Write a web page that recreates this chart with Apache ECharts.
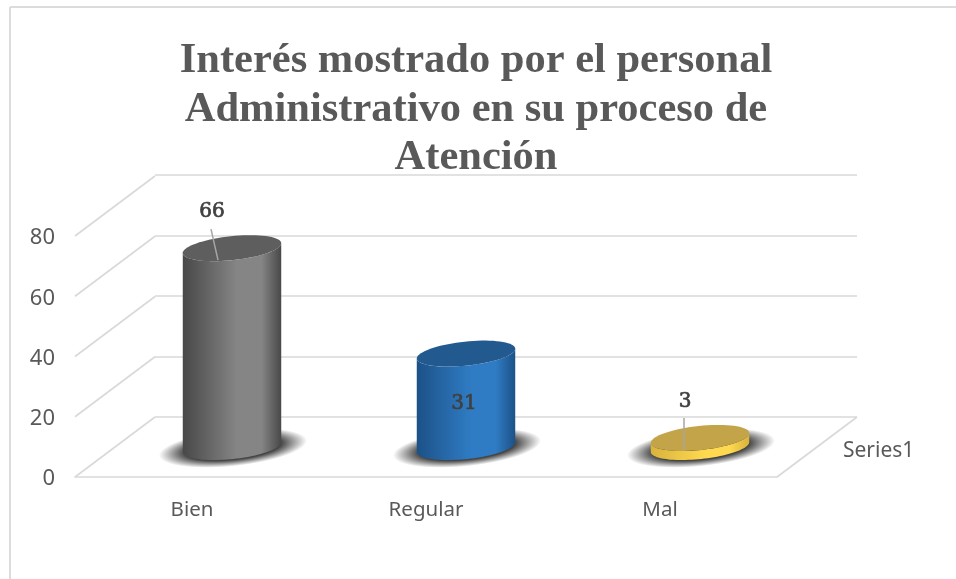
<!DOCTYPE html>
<html>
<head>
<meta charset="utf-8">
<style>html,body{margin:0;padding:0;background:#fff}#c{width:956px;height:579px}</style>
<script src="https://cdn.jsdelivr.net/npm/echarts@6/dist/echarts.min.js"></script>
</head>
<body>
<div id="c"></div>
<script>
const categories = ['Bien', 'Regular', 'Mal'];
const values = [66, 31, 3];
const valueTicks = [0, 20, 40, 60, 80];
const seriesName = 'Series1';
const titleText = 'Interés mostrado por el personal\nAdministrativo en su proceso de\nAtención';

// styling and layout
const depth = [80, -60];
const rx = 49.5, ry = 12, tilt = 0.105;
const gridColor = '#d9d9d9';
const looks = [
  { edge: '#484848', mid: '#858585', top: '#5e5e5e' },
  { edge: '#1c5187', mid: '#2f7cc4', top: '#22598f' },
  { edge: '#d8b23c', mid: '#ffd94f', top: '#c3a448' }
];
const labelOffsets = [[-20, -36], [-2, 50], [-15, -36]];
const leaders = [[-21, -19, -14, 12], null, [-16, -20, -16, 12]];

function ellipsePts(cx, cy, from, to, n) {
  const pts = [], c = Math.cos(tilt), s = Math.sin(tilt);
  for (let i = 0; i <= n; i++) {
    const t = from + (to - from) * i / n;
    const ex = rx * Math.cos(t), ey = ry * Math.sin(t);
    pts.push([cx + ex * c + ey * s, cy - ex * s + ey * c]);
  }
  return pts;
}

function renderFrameLines(params, api) {
  const cs = params.coordSys;
  const v = api.value(0);
  const y = api.coord([0, v])[1];
  const style = { stroke: gridColor, lineWidth: 1.6, fill: null };
  const children = [{
    type: 'line',
    shape: { x1: cs.x, y1: y, x2: cs.x + depth[0], y2: y + depth[1] },
    style
  }];
  if (v === 0) {
    children.push({
      type: 'line',
      shape: { x1: cs.x + cs.width, y1: y, x2: cs.x + cs.width + depth[0], y2: y + depth[1] },
      style
    });
    children.push({
      type: 'text',
      style: {
        x: cs.x + cs.width + 66, y: y - 26, text: seriesName,
        font: '21px "Noto Sans"', fill: '#595959', align: 'left', verticalAlign: 'middle'
      }
    });
  }
  return { type: 'group', children };
}

function renderColumn(params, api) {
  const i = api.value(0);
  const v = api.value(1);
  const look = looks[i];
  const p0 = api.coord([i, 0]);
  const p1 = api.coord([i, v]);
  const cx = p0[0] + depth[0] / 2;
  const baseY = p0[1] + depth[1] / 2;
  const topY = p1[1] + depth[1] / 2;

  const lower = ellipsePts(cx, baseY, 0, Math.PI, 48);
  const upper = ellipsePts(cx, topY, Math.PI, 0, 48);
  const children = [
    {
      type: 'circle',
      x: cx + 1, y: baseY + 1, rotation: tilt, scaleX: 1.55, scaleY: 0.38,
      shape: { cx: 0, cy: 0, r: 48 },
      style: {
        fill: {
          type: 'radial', x: 0.5, y: 0.5, r: 0.5,
          colorStops: [
            { offset: 0, color: 'rgba(45,45,45,0.92)' },
            { offset: 0.65, color: 'rgba(45,45,45,0.88)' },
            { offset: 0.82, color: 'rgba(45,45,45,0.45)' },
            { offset: 1, color: 'rgba(45,45,45,0)' }
          ]
        }
      }
    },
    {
      type: 'polygon',
      shape: { points: lower.concat(upper) },
      style: {
        fill: {
          type: 'linear', x: 0, y: 0, x2: 1, y2: 0,
          colorStops: [
            { offset: 0, color: look.edge },
            { offset: 0.55, color: look.mid },
            { offset: 0.8, color: look.mid },
            { offset: 1, color: look.edge }
          ]
        }
      }
    },
    {
      type: 'polygon',
      shape: { points: ellipsePts(cx, topY, 0, Math.PI * 2, 72) },
      style: { fill: look.top }
    }
  ];
  const lead = leaders[i];
  if (lead) {
    children.push({
      type: 'line',
      shape: { x1: cx + lead[0], y1: topY + lead[1], x2: cx + lead[2], y2: topY + lead[3] },
      style: { stroke: '#a6a6a6', lineWidth: 1.5, fill: null }
    });
  }
  const off = labelOffsets[i];
  children.push({
    type: 'text',
    style: {
      x: cx + off[0], y: topY + off[1], text: String(v),
      font: '20px "DejaVu Serif"', fill: '#404040', stroke: '#404040', lineWidth: 0.7,
      align: 'center', verticalAlign: 'middle'
    }
  });
  return { type: 'group', children };
}

const chart = echarts.init(document.getElementById('c'), null, { renderer: 'canvas' });
chart.setOption({
  animation: false,
  backgroundColor: '#fff',
  title: {
    text: titleText,
    left: 471, top: 32, textAlign: 'center',
    textStyle: { fontFamily: '"Liberation Serif"', fontWeight: 'bold', fontSize: 42.5, lineHeight: 48.5, color: '#595959' }
  },
  graphic: [
    { type: 'line', shape: { x1: 10, y1: 7, x2: 956, y2: 7 }, style: { stroke: '#dcdcdc', lineWidth: 2 } },
    { type: 'line', shape: { x1: 10, y1: 7, x2: 10, y2: 579 }, style: { stroke: '#dcdcdc', lineWidth: 2 } }
  ],
  grid: [
    { left: 155, right: 99, top: 175, bottom: 162 },
    { left: 75, right: 179, top: 236, bottom: 102 }
  ],
  xAxis: [
    { gridIndex: 0, type: 'category', data: categories, show: false },
    {
      gridIndex: 1, type: 'category', data: categories,
      axisLine: { show: true, lineStyle: { color: gridColor, width: 1.6 } },
      axisTick: { show: false },
      axisLabel: { margin: 23, fontFamily: '"Noto Sans"', fontSize: 20.5, color: '#595959' }
    }
  ],
  yAxis: [
    {
      gridIndex: 0, type: 'value', min: 0, max: 80, interval: 20,
      axisLine: { show: false }, axisTick: { show: false }, axisLabel: { show: false },
      splitLine: { show: true, lineStyle: { color: gridColor, width: 1.6 } }
    },
    {
      gridIndex: 1, type: 'value', min: 0, max: 80, interval: 20,
      axisLine: { show: false }, axisTick: { show: false }, splitLine: { show: false },
      axisLabel: { margin: 20, verticalAlign: 'top', lineHeight: 4, fontFamily: '"Noto Sans"', fontSize: 22, color: '#595959' }
    }
  ],
  series: [
    {
      type: 'custom', xAxisIndex: 1, yAxisIndex: 1, silent: true,
      data: valueTicks.map(v => [v]),
      encode: { y: 0 },
      renderItem: renderFrameLines
    },
    {
      type: 'custom', name: seriesName, xAxisIndex: 1, yAxisIndex: 1, silent: true,
      data: values.map((v, i) => [i, v]),
      encode: { x: 0, y: 1 },
      renderItem: renderColumn
    }
  ]
});
</script>
</body>
</html>
